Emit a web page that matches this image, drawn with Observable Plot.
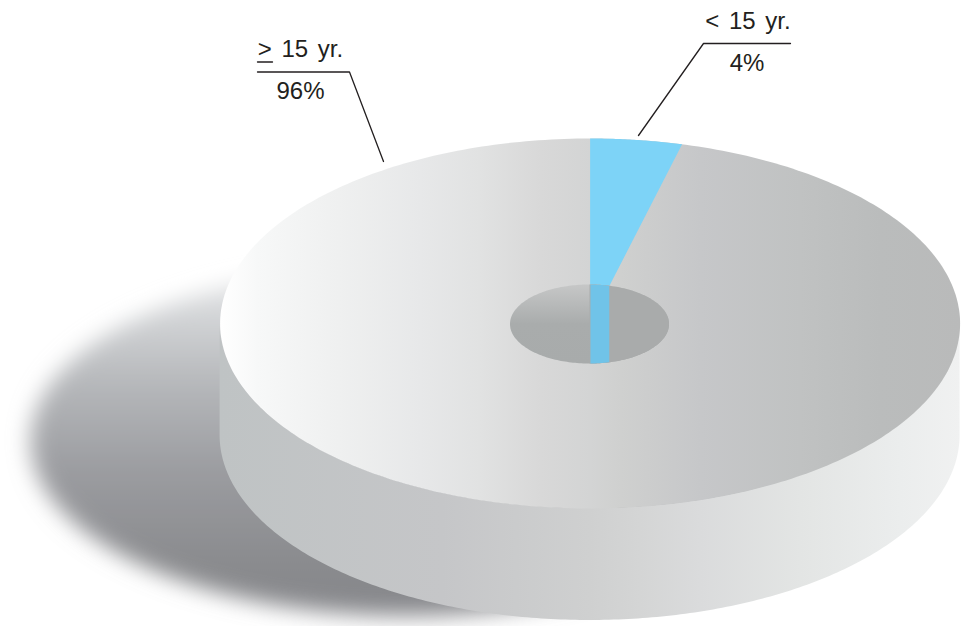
<!DOCTYPE html>
<html>
<head>
<meta charset="utf-8">
<script src="https://cdn.jsdelivr.net/npm/d3@7"></script>
<script src="https://cdn.jsdelivr.net/npm/@observablehq/plot@0.6"></script>
<style>html,body{margin:0;padding:0;background:#fff}svg{display:block}svg text{word-spacing:3px}</style>
</head>
<body>
<div id="chart"></div>
<script>
// Data
const groups = ["< 15 yr.", "> 15 yr."];
const shares = [4, 96];
const shareLabels = ["4%", "96%"];

// Disc geometry
const W = 963, H = 626;
const cx = 589.6, cy = 323, rx = 370, ry = 185, depth = 112;
const hx = 589, hy = 323.5, hrx = 79.5, hry = 39.5;
const theta = shares[0] / d3.sum(shares) * 2 * Math.PI;

const arc = (a0, a1, x0, y0, a, b, n = 180) =>
  d3.range(n + 1).map(i => {
    const t = a0 + (a1 - a0) * i / n;
    return {x: x0 + a * Math.sin(t), y: y0 - b * Math.cos(t)};
  });
const P = Math.PI;
const topDisc = arc(0, 2 * P, cx, cy, rx, ry, 360);
const bluePiece = [{x: cx, y: cy}, ...arc(0, theta, cx, cy, rx, ry, 40)];
const holeAll = arc(0, 2 * P, hx, hy, hrx, hry, 240);
const holeRight = arc(0, P, hx, hy, hrx, hry, 120);
const holeStrip = [...arc(0.012, theta, hx, hy, hrx, hry, 20), ...arc(P - theta, P - 0.012, hx, hy, hrx, hry, 20)];
const wall = arc(P / 2, 3 * P / 2, cx, cy, rx, ry, 240).map(d => ({x: d.x, y1: d.y, y2: d.y + depth}));
const shadow = arc(0, 2 * P, 405, 440, 375, 175, 240);

const blur = (i, sc, v, d, c, next) => {
  const g = next(i, sc, v, d, c);
  g.setAttribute("filter", "url(#shadowBlur)");
  return g;
};
const solid = (pts, fill, extra = {}) => Plot.line(pts, {x: "x", y: "y", fill, stroke: "none", ...extra});

const font = {fontFamily: "'Liberation Sans', Arial, sans-serif", fontSize: 24, fill: "#231f20", lineAnchor: "bottom"};
const leader = pts => Plot.line(pts, {x: "x", y: "y", stroke: "#231f20", strokeWidth: 1.3, curve: "linear"});
const label = (txt, x, y) => Plot.text([txt], {x: () => x, y: () => y, text: d => d, ...font});

const chart = Plot.plot({
  width: W, height: H, margin: 0,
  x: {domain: [0, W], range: [0, W], axis: null},
  y: {domain: [0, H], range: [0, H], axis: null},
  style: {background: "#fff"},
  marks: [
    solid(shadow, "url(#shadowGrad)", {render: blur}),
    Plot.areaY(wall, {x: "x", y1: "y1", y2: "y2", fill: "url(#wallGrad)", curve: "linear"}),
    solid(topDisc, "url(#topGrad)"),
    solid(bluePiece, "#7dd3f7"),
    solid(holeAll, "url(#holeGrad)"),
    solid(holeRight, "#a9abab"),
    solid(holeStrip, "#70c3e8"),
    leader([{x: 257, y: 71.5}, {x: 349, y: 71.5}, {x: 383, y: 161}]),
    leader([{x: 790, y: 43}, {x: 703, y: 43}, {x: 638, y: 135}]),
    leader([{x: 257, y: 61.5}, {x: 272, y: 61.5}]),
    label(groups[1], 300, 56),
    label(shareLabels[1], 300, 98),
    label(groups[0], 747.5, 28),
    label(shareLabels[0], 746.5, 70)
  ]
});

const grad = (id, stops, attrs) => {
  const g = d3.select(chart).select("defs.pie").append("linearGradient")
    .attr("id", id).attr("gradientUnits", "userSpaceOnUse");
  Object.entries(attrs).forEach(([k, v]) => g.attr(k, v));
  stops.forEach(([o, c]) => g.append("stop").attr("offset", o).attr("stop-color", c));
};
const defs = d3.select(chart).insert("defs", ":first-child").attr("class", "pie");
const band = ([x, c]) => [(x - 220) / 740, c];
grad("topGrad", [[220, "#ffffff"], [257, "#f7f8f8"], [338, "#eff0f0"], [420, "#e7e8e9"], [479, "#e1e2e2"], [540, "#d8d8d8"], [590, "#d3d4d4"], [620, "#cfd0cf"], [700, "#c6c7c9"], [800, "#c0c2c2"], [880, "#babcbc"], [960, "#b9baba"]].map(band), {x1: 220, x2: 960, y1: 0, y2: 0});
grad("wallGrad", [[220, "#bfc3c4"], [442, "#c5c6c8"], [590, "#cfd0d0"], [640, "#d4d5d5"], [700, "#dadbdc"], [800, "#e3e5e4"], [900, "#ebeded"], [960, "#f0f1f1"]].map(band), {x1: 220, x2: 960, y1: 0, y2: 0});
grad("holeGrad", [[0, "#c6c7c7"], [0.5, "#a9acac"], [1, "#a8abab"]], {x1: 0, x2: 0, y1: 284, y2: 363});
grad("shadowGrad", [[0, "#f2f2f3"], [0.12, "#d6d8da"], [0.35, "#b4b6b9"], [0.6, "#9a9b9f"], [0.85, "#8a8b8e"], [1, "#85868a"]], {x1: 0, x2: 0, y1: 265, y2: 615});
const f = defs.append("filter").attr("id", "shadowBlur").attr("x", "-10%").attr("y", "-10%").attr("width", "120%").attr("height", "120%");
f.append("feGaussianBlur").attr("stdDeviation", 11);

document.getElementById("chart").append(chart);
</script>
</body>
</html>
